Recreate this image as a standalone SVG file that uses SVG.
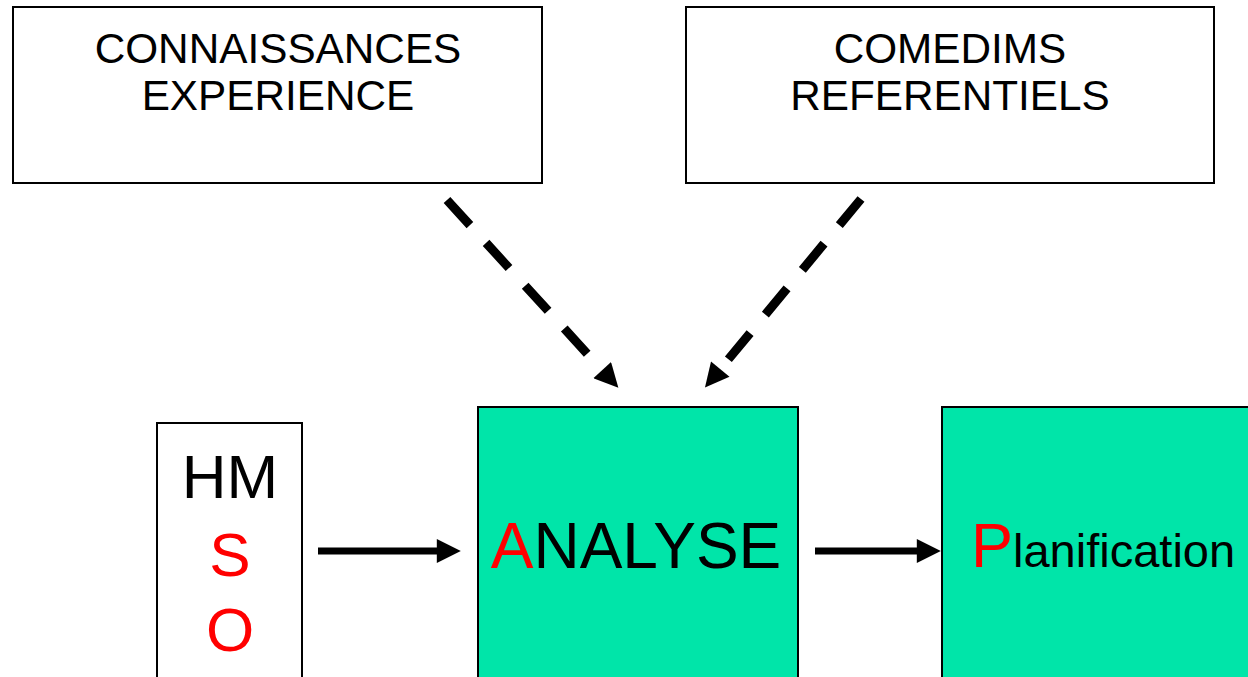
<svg xmlns="http://www.w3.org/2000/svg" width="1248" height="677" viewBox="0 0 1248 677">
<defs>
<style>
.box{fill:#fff;stroke:#000;stroke-width:2}
.green{fill:#00E5A9;stroke:#000;stroke-width:2}
.t{font-family:"Liberation Sans",Arial,sans-serif;fill:#000;text-anchor:middle}
.r{fill:#f00}
.dash{stroke:#000;stroke-width:9;stroke-dasharray:34 24;fill:none}
.solid{stroke:#000;stroke-width:7;fill:none}
</style>
<marker id="ah" viewBox="0 0 10 10" refX="0.5" refY="5" markerUnits="userSpaceOnUse" markerWidth="26" markerHeight="24" orient="auto">
<path d="M0,0 L10,5 L0,10 Z" fill="#000"/>
</marker>
</defs>
<g id="connaissances">
<rect class="box" x="13" y="7" width="529" height="176"/>
<text class="t" x="278" y="63" font-size="42.3">CONNAISSANCES</text>
<text class="t" x="278" y="110" font-size="42.3">EXPERIENCE</text>
</g>
<g id="comedims">
<rect class="box" x="686" y="7" width="528" height="176"/>
<text class="t" x="950" y="63" font-size="42.3">COMEDIMS</text>
<text class="t" x="950" y="110" font-size="42.3">REFERENTIELS</text>
</g>
<g id="hmso">
<rect class="box" x="157" y="423" width="145" height="270"/>
<text class="t" x="230" y="498" font-size="62">HM</text>
<text class="t r" x="230" y="576" font-size="62">S</text>
<text class="t r" x="230" y="651" font-size="62">O</text>
</g>
<g id="analyse">
<rect class="green" x="478" y="407" width="320" height="290"/>
<text class="t" x="636" y="568" font-size="64"><tspan class="r">A</tspan>NALYSE</text>
</g>
<g id="planification">
<rect class="green" x="942" y="407" width="320" height="290"/>
<text x="971" y="567" font-family="Liberation Sans, Arial, sans-serif"><tspan fill="#f00" font-size="63">P</tspan><tspan fill="#000" font-size="47">lanification</tspan></text>
</g>
<g id="connectors">
<line class="dash" x1="447" y1="200" x2="603" y2="371" marker-end="url(#ah)"/>
<line class="dash" x1="861" y1="199" x2="719.5" y2="370" marker-end="url(#ah)"/>
<line class="solid" x1="318" y1="551" x2="438" y2="551" marker-end="url(#ah)"/>
<line class="solid" x1="815" y1="551" x2="918" y2="551" marker-end="url(#ah)"/>
</g>
</svg>
